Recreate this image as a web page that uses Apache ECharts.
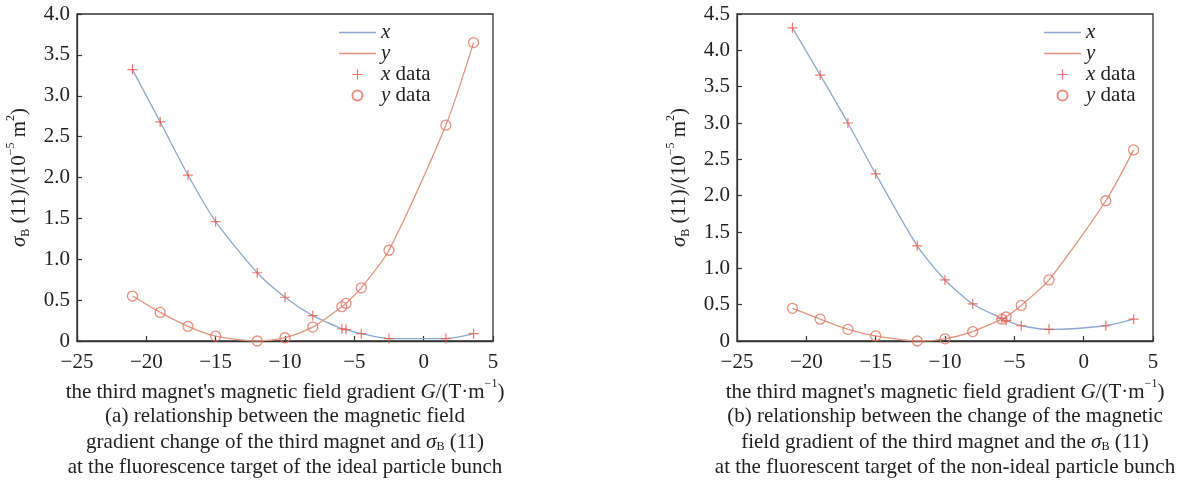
<!DOCTYPE html>
<html>
<head>
<meta charset="utf-8">
<script src="https://cdn.jsdelivr.net/npm/echarts@6/dist/echarts.min.js"></script>
<style>html,body{margin:0;padding:0;background:#fff;}#c{width:1197px;height:484px;}</style>
</head>
<body>
<div id="c"></div>
<script>
// Gradient values G (T/m) of the sampled points
var gradA = [-21, -19, -17, -15, -12, -10, -8, -5.9, -5.6, -4.5, -2.5, 1.6, 3.6];
var gradB = [-21, -19, -17, -15, -12, -10, -8, -5.9, -5.6, -4.5, -2.5, 1.6, 3.6];
// (a) ideal particle bunch
var sigmaXA = [3.32, 2.68, 2.03, 1.46, 0.835, 0.535, 0.31, 0.15, 0.14, 0.09, 0.03, 0.03, 0.09];
var sigmaYA = [0.55, 0.35, 0.18, 0.06, 0.0, 0.04, 0.17, 0.42, 0.46, 0.65, 1.11, 2.64, 3.65];
// (b) non-ideal particle bunch
var sigmaXB = [4.31, 3.66, 3.00, 2.30, 1.31, 0.84, 0.51, 0.31, 0.28, 0.21, 0.16, 0.21, 0.30];
var sigmaYB = [0.45, 0.30, 0.16, 0.07, 0.0, 0.03, 0.13, 0.30, 0.33, 0.49, 0.84, 1.93, 2.63];
var xTicks = [-25, -20, -15, -10, -5, 0, 5];
var seriesNames = ['x', 'y', 'x data', 'y data'];

var FONT = "'Liberation Serif', 'Times New Roman', serif";
var BLUE = '#8ea8cf', SALMON = '#e39580', PLUS = '#e8564c', CIRC = '#e8705f';
var PLUS_PATH = 'path://M4.4,0 h1.2 v4.4 h4.4 v1.2 h-4.4 v4.4 h-1.2 v-4.4 h-4.4 v-1.2 h4.4 z';
var LINE_ICON = 'path://M0,0 L37,0 L37,1.5 L0,1.5 Z';
var FS = 21;

function pairs(xs, ys) { return xs.map(function (v, i) { return [v, ys[i]]; }); }

var grids = [
  { left: 77, top: 14, width: 416, height: 327 },
  { left: 737, top: 14, width: 416, height: 327 }
];
var maxY = [4.0, 4.5];
var nameGapY = [47, 47];

var richSet = {
  i: { fontFamily: FONT, fontStyle: 'italic', fontSize: FS, color: '#222' },
  sub: { fontFamily: FONT, fontSize: 12, color: '#222', verticalAlign: 'bottom', padding: [0, 0, -2, 0] },
  sup: { fontFamily: FONT, fontSize: 12, color: '#222', verticalAlign: 'top', padding: [-4, 0, 0, 0] },
  n: { fontFamily: FONT, fontSize: FS, color: '#222' }
};

var xAxes = [], yAxes = [], series = [], legends = [];
[0, 1].forEach(function (k) {
  xAxes.push({
    type: 'value', gridIndex: k, min: -25, max: 5, interval: 5,
    name: "{n|the third magnet's magnetic field gradient }{i|G}{n|/(T·m}{sup|−1}{n|)}",
    nameLocation: 'middle', nameGap: 34,
    nameTextStyle: { fontFamily: FONT, fontSize: FS, color: '#222', rich: richSet },
    axisLine: { onZero: false, lineStyle: { color: '#333', width: 1.3 } },
    axisTick: { inside: true, length: 5, lineStyle: { color: '#333', width: 1.2 } },
    axisLabel: { fontFamily: FONT, fontSize: FS, color: '#222', margin: 11,
      formatter: function (v) { return String(v).replace('-', '\u2212'); } },
    splitLine: { show: false }
  });
  yAxes.push({
    type: 'value', gridIndex: k, min: 0, max: maxY[k], interval: 0.5,
    name: '{i|σ}{sub|B}{n| (11)/(10}{sup|−5}{n| m}{sup|2}{n|)}',
    nameLocation: 'middle', nameGap: nameGapY[k], nameRotate: 90,
    nameTextStyle: { fontFamily: FONT, fontSize: FS, color: '#222', rich: richSet },
    axisLine: { onZero: false, lineStyle: { color: '#333', width: 1.3 } },
    axisTick: { inside: true, length: 5, lineStyle: { color: '#333', width: 1.2 } },
    axisLabel: { fontFamily: FONT, fontSize: FS, color: '#222', margin: 7,
      formatter: function (v) { return v === 0 ? '0' : v.toFixed(1); } },
    splitLine: { show: false }
  });
  var xs = k === 0 ? gradA : gradB;
  var sx = k === 0 ? sigmaXA : sigmaXB;
  var sy = k === 0 ? sigmaYA : sigmaYB;
  series.push(
    { name: seriesNames[0], type: 'line', xAxisIndex: k, yAxisIndex: k, data: pairs(xs, sx),
      symbol: 'none', smooth: 0.25, lineStyle: { color: BLUE, width: 1.3 }, itemStyle: { color: BLUE }, z: 2 },
    { name: seriesNames[1], type: 'line', xAxisIndex: k, yAxisIndex: k, data: pairs(xs, sy),
      symbol: 'none', smooth: 0.25, lineStyle: { color: SALMON, width: 1.3 }, itemStyle: { color: SALMON }, z: 2 },
    { name: seriesNames[2], type: 'scatter', xAxisIndex: k, yAxisIndex: k, data: pairs(xs, sx),
      symbol: PLUS_PATH, symbolSize: 10, itemStyle: { color: PLUS, opacity: 0.8 }, z: 3 },
    { name: seriesNames[3], type: 'scatter', xAxisIndex: k, yAxisIndex: k, data: pairs(xs, sy),
      symbol: 'circle', symbolSize: 10, itemStyle: { color: 'rgba(0,0,0,0)', borderColor: CIRC, borderWidth: 1.3 }, z: 3 }
  );
  legends.push({
    orient: 'vertical', left: k === 0 ? 339 : 1044, top: 22, padding: 0,
    itemWidth: 37, itemHeight: 10, itemGap: 0,
    data: [
      { name: seriesNames[0], icon: LINE_ICON },
      { name: seriesNames[1], icon: LINE_ICON },
      { name: seriesNames[2] },
      { name: seriesNames[3] }
    ],
    selectedMode: false,
    textStyle: { fontFamily: FONT, fontSize: FS, color: '#222', lineHeight: 18.7,
      rich: { i: { fontFamily: FONT, fontStyle: 'italic', fontSize: FS, color: '#222', lineHeight: 18.7 },
              n: { fontFamily: FONT, fontSize: FS, color: '#222', lineHeight: 18.7 } } },
    formatter: function (name) {
      var parts = name.split(' ');
      return '{i|' + parts[0] + '}' + (parts[1] ? '{n| ' + parts[1] + '}' : '');
    }
  });
});

var captionRich = {
  n: { fontFamily: FONT, fontSize: FS, color: '#222', lineHeight: 25.5 },
  i: { fontFamily: FONT, fontStyle: 'italic', fontSize: FS, color: '#222', lineHeight: 25.5 },
  sub: { fontFamily: FONT, fontSize: 12, color: '#222', lineHeight: 25.5, verticalAlign: 'bottom', padding: [0, 0, 2, 0] }
};

var option = {
  animation: false,
  backgroundColor: '#fff',
  textStyle: { fontFamily: FONT, color: '#222' },
  grid: grids.map(function (g) { return Object.assign({ show: true, borderColor: '#333', borderWidth: 1.3, backgroundColor: 'transparent' }, g); }),
  xAxis: xAxes,
  yAxis: yAxes,
  legend: legends,
  title: [
    { left: 285, top: 404, textAlign: 'center', padding: 0,
      text: '{n|(a) relationship between the magnetic field}\n{n|gradient change of the third magnet and }{i|σ}{sub|B}{n| (11)}\n{n|at the fluorescence target of the ideal particle bunch}',
      textStyle: { rich: captionRich, fontFamily: FONT, fontSize: FS, fontWeight: 'normal', lineHeight: 25.5 } },
    { left: 945, top: 404, textAlign: 'center', padding: 0,
      text: '{n|(b) relationship between the change of the magnetic}\n{n|field gradient of the third magnet and the }{i|σ}{sub|B}{n| (11)}\n{n|at the fluorescent target of the non-ideal particle bunch}',
      textStyle: { rich: captionRich, fontFamily: FONT, fontSize: FS, fontWeight: 'normal', lineHeight: 25.5 } }
  ],
  series: series
};

var chart = echarts.init(document.getElementById('c'), null, { renderer: 'canvas' });
chart.setOption(option);
</script>
</body>
</html>
